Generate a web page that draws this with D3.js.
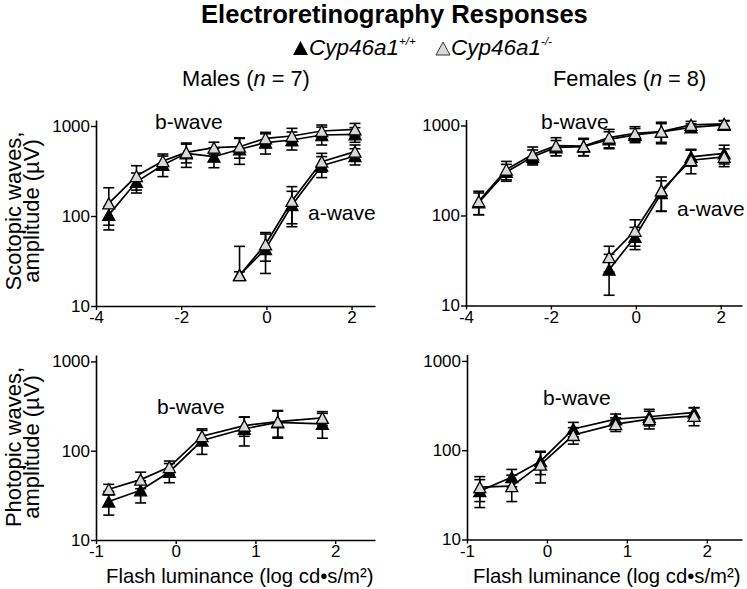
<!DOCTYPE html>
<html>
<head>
<meta charset="utf-8">
<script src="https://cdn.jsdelivr.net/npm/d3@7"></script>
<style>
  html, body { margin: 0; padding: 0; background: #fff; }
  svg { display: block; font-family: "Liberation Sans", Arial, sans-serif; }
</style>
</head>
<body>
<svg id="chart" width="747" height="589"></svg>
<script>
// ---------------- DATA ----------------
const scotLevels = [-3.7, -3.05, -2.43, -1.88, -1.23, -0.63, -0.02, 0.6, 1.3, 2.08];
const aLevels = [-0.63, -0.02, 0.6, 1.3, 2.08];
const photLevels = [-0.84, -0.44, -0.08, 0.33, 0.86, 1.28, 1.84];

// Males scotopic b-wave
const mScotBWt = [103, 240, 369, 497, 456, 551, 653, 699, 794, 809];
const mScotBWtErr = [24, 60, 95, 150, 112, 176, 165, 158, 179, 150];
const mScotBKo = [138, 278, 408, 509, 574, 589, 730, 774, 880, 918];
const mScotBKoErr = [68, 84, 80, 120, 86, 150, 120, 168, 146, 150];
// Males scotopic a-wave
const mScotAWt = [22, 43, 132, 362, 464];
const mScotAWtErr = [24, 20, 56, 95, 95];
const mScotAKo = [22, 48.5, 147, 402, 519];
const mScotAKoErr = [2, 17, 65, 95, 96];
// Females scotopic b-wave
const fScotBWt = [140, 305, 449, 571, 582, 702, 785, 850, 951, 1016];
const fScotBWtErr = [38, 65, 85, 110, 120, 150, 140, 200, 90, 120];
const fScotBKo = [144, 324, 477, 597, 590, 735, 820, 857, 1016, 1042];
const fScotBKoErr = [42, 75, 100, 135, 130, 170, 150, 230, 95, 80];
// Females scotopic a-wave
const fScotAWt = [25, 57.8, 177, 449, 489];
const fScotAWtErr = [12, 16, 66, 95, 115];
const fScotAKo = [34.5, 67.6, 190, 411, 449];
const fScotAKoErr = [11, 22, 78, 120, 100];
// Males photopic b-wave
const mPhotWt = [27, 36, 57.8, 130, 176, 208, 200];
const mPhotWtErr = [8, 10, 14, 39, 63, 70, 62];
const mPhotKo = [37, 47.5, 65.6, 145.5, 191, 212, 233];
const mPhotKoErr = [5, 10, 11, 30, 46, 70, 41];
// Females photopic b-wave
const fPhotWt = [34.8, 49.9, 75.3, 173, 223, 237, 265];
const fPhotWtErr = [12, 11, 22, 32, 31, 50, 35];
const fPhotKo = [38.6, 39.6, 69, 148, 196, 223, 243];
const fPhotKoErr = [12, 13, 26, 31, 34, 50, 55];

const yTicks = [10, 100, 1000];
const scotXTicks = [-4, -2, 0, 2];
const photXTicks = [-1, 0, 1, 2];

const titleText = "Electroretinography Responses";
const legendGene = "Cyp46a1";
const legendWtSup = "+/+";
const legendKoSup = "-/-";
const xLabelText = "Flash luminance (log cd\u2022s/m\u00B2)";

// ---------------- HELPERS ----------------
const svg = d3.select("#chart");
const FONT = "'Liberation Sans', Arial, sans-serif";

function addText(x, y, opts) {
  const g = svg.append("g")
    .attr("transform", `translate(${x},${y}) rotate(${opts.rotate || 0})`);
  const t = g.append("text")
    .attr("x", 0).attr("y", 0)
    .attr("font-family", FONT)
    .attr("font-size", opts.size)
    .attr("font-weight", opts.weight || "normal")
    .attr("font-style", opts.italic ? "italic" : "normal")
    .attr("text-anchor", opts.anchor || "start")
    .attr("fill", "#000");
  return t;
}

function triPath(w, h) {
  return `M0,${-h / 2}L${w / 2},${h / 2}L${-w / 2},${h / 2}Z`;
}

function drawPanel(p) {
  const x = d3.scaleLinear().domain(p.xDomain).range(p.xRange);
  const y = d3.scaleLog().domain(p.yDomain).range(p.yRange);

  const yAxis = d3.axisLeft(y).tickValues(yTicks).tickFormat(d3.format("d"))
    .tickSize(5).tickSizeOuter(0).tickPadding(1);
  const gy = svg.append("g").attr("transform", `translate(${p.xRange[0]},0)`).call(yAxis);
  const xAxis = d3.axisBottom(x).tickValues(p.xTicks).tickFormat(d3.format("d"))
    .tickSize(4).tickSizeOuter(0).tickPadding(1);
  const gx = svg.append("g").attr("transform", `translate(0,${p.yRange[0]})`).call(xAxis);
  [gx, gy].forEach(g => {
    g.select(".domain").attr("stroke", "#000").attr("stroke-width", 1.6);
    g.selectAll(".tick line").attr("stroke", "#000").attr("stroke-width", 1.4);
    g.selectAll(".tick text")
      .attr("font-family", FONT).attr("font-size", 17).attr("fill", "#000");
  });
  gx.selectAll(".tick text").text(d => d < 0 ? "-" + Math.abs(d) : d);

  const plot = svg.append("g");
  const capW = 5.5;

  p.series.forEach(s => {
    s.levels.forEach((lv, i) => {
      const v = s.values[i], e = s.errs[i];
      const cx = x(lv);
      const hi = v + e;
      const lo = v - e;
      const yHi = y(hi);
      const yLo = lo > 0 ? y(lo) : null;
      const eb = plot.append("g").attr("stroke", "#000").attr("stroke-width", 1.6);
      eb.append("line").attr("x1", cx).attr("x2", cx).attr("y1", yHi).attr("y2", yLo !== null ? yLo : y(v));
      eb.append("line").attr("x1", cx - capW).attr("x2", cx + capW).attr("y1", yHi).attr("y2", yHi);
      if (yLo !== null) eb.append("line").attr("x1", cx - capW).attr("x2", cx + capW).attr("y1", yLo).attr("y2", yLo);
    });
  });
  p.series.forEach(s => {
    const line = d3.line().x((d, i) => x(s.levels[i])).y(d => y(d));
    plot.append("path").datum(s.values).attr("d", line)
      .attr("fill", "none").attr("stroke", "#000").attr("stroke-width", 1.7);
  });
  p.series.forEach(s => {
    plot.selectAll(null).data(s.values).enter().append("path")
      .attr("d", triPath(12, 11))
      .attr("transform", (d, i) => `translate(${x(s.levels[i])},${y(d)})`)
      .attr("fill", s.open ? "#d9d9d9" : "#000")
      .attr("stroke", "#000").attr("stroke-width", 1.3)
      .attr("stroke-linejoin", "miter");
  });

  p.labels.forEach(l => {
    addText(l.x, l.y, { size: 21 }).text(l.text);
  });
}

// ---------------- PANELS ----------------
const panels = [
  {
    xDomain: [-4, 2.55], xRange: [96, 375], yDomain: [10, 1166], yRange: [306, 120], xTicks: scotXTicks,
    series: [
      { levels: scotLevels, values: mScotBWt, errs: mScotBWtErr, open: false },
      { levels: aLevels, values: mScotAWt, errs: mScotAWtErr, open: false },
      { levels: scotLevels, values: mScotBKo, errs: mScotBKoErr, open: true },
      { levels: aLevels, values: mScotAKo, errs: mScotAKoErr, open: true }
    ],
    labels: [{ text: "b-wave", x: 155, y: 129 }, { text: "a-wave", x: 308, y: 220 }]
  },
  {
    xDomain: [-4, 2.5], xRange: [466, 742], yDomain: [10, 1166], yRange: [305.5, 119.5], xTicks: scotXTicks,
    series: [
      { levels: scotLevels, values: fScotBWt, errs: fScotBWtErr, open: false },
      { levels: aLevels, values: fScotAWt, errs: fScotAWtErr, open: false },
      { levels: scotLevels, values: fScotBKo, errs: fScotBKoErr, open: true },
      { levels: aLevels, values: fScotAKo, errs: fScotAKoErr, open: true }
    ],
    labels: [{ text: "b-wave", x: 541, y: 129 }, { text: "a-wave", x: 677, y: 216 }]
  },
  {
    xDomain: [-1, 2.5], xRange: [96, 375], yDomain: [10, 1180], yRange: [540, 355], xTicks: photXTicks,
    series: [
      { levels: photLevels, values: mPhotWt, errs: mPhotWtErr, open: false },
      { levels: photLevels, values: mPhotKo, errs: mPhotKoErr, open: true }
    ],
    labels: [{ text: "b-wave", x: 157, y: 414 }]
  },
  {
    xDomain: [-1, 2.44], xRange: [467, 742], yDomain: [10, 1180], yRange: [539.5, 354.5], xTicks: photXTicks,
    series: [
      { levels: photLevels, values: fPhotWt, errs: fPhotWtErr, open: false },
      { levels: photLevels, values: fPhotKo, errs: fPhotKoErr, open: true }
    ],
    labels: [{ text: "b-wave", x: 543, y: 405 }]
  }
];
panels.forEach(drawPanel);

// ---------------- TEXT ----------------
addText(201, 23, { size: 25.6, weight: "bold" }).text(titleText);

// legend
svg.append("path").attr("d", triPath(15, 14))
  .attr("transform", "translate(300.5,48)").attr("fill", "#000");
const l1 = addText(309, 55, { size: 22.5, italic: true });
l1.append("tspan").text(legendGene);
l1.append("tspan").attr("font-size", 11.5).attr("dy", -10).text(legendWtSup);
svg.append("path").attr("d", triPath(14, 13))
  .attr("transform", "translate(443,48.5)").attr("fill", "#d9d9d9")
  .attr("stroke", "#333").attr("stroke-width", 1);
const l2 = addText(451, 55, { size: 22.5, italic: true });
l2.append("tspan").text(legendGene);
l2.append("tspan").attr("font-size", 11.5).attr("dy", -10).text(legendKoSup);

// group headers
const mh = addText(182, 86, { size: 21.8 });
mh.append("tspan").text("Males (");
mh.append("tspan").attr("font-style", "italic").text("n");
mh.append("tspan").text(" = 7)");
const fh = addText(553, 86, { size: 21.8 });
fh.append("tspan").text("Females (");
fh.append("tspan").attr("font-style", "italic").text("n");
fh.append("tspan").text(" = 8)");

// y-axis titles
addText(21, 211, { size: 22, rotate: -90, anchor: "middle" }).text("Scotopic waves,");
addText(39, 211, { size: 22, rotate: -90, anchor: "middle" }).text("amplitude (\u00B5V)");
addText(21, 447, { size: 22, rotate: -90, anchor: "middle" }).text("Photopic waves,");
addText(39, 447, { size: 22, rotate: -90, anchor: "middle" }).text("amplitude (\u00B5V)");

// x-axis titles
addText(106, 583, { size: 20.3 }).text(xLabelText);
addText(473, 583, { size: 20.3 }).text(xLabelText);
</script>
</body>
</html>
